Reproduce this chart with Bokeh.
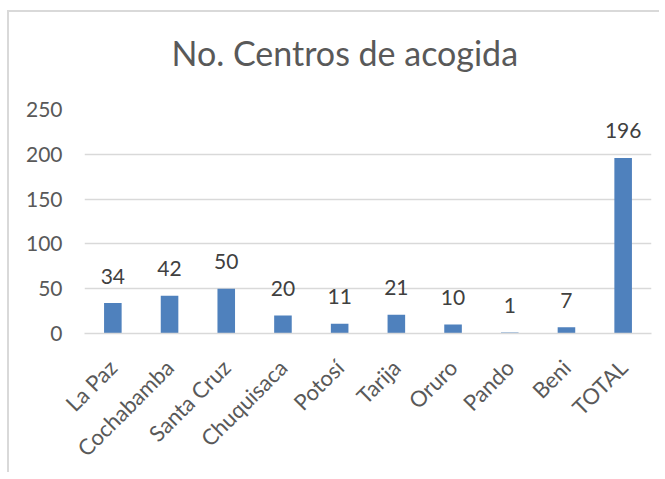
import math
from bokeh.plotting import figure
from bokeh.models import FactorRange, Range1d, FixedTicker, ColumnDataSource, Title
from bokeh.core.properties import value
from bokeh.embed import file_html
from bokeh.resources import INLINE

# ---- data ----
categories = ["La Paz", "Cochabamba", "Santa Cruz", "Chuquisaca", "Potosí",
              "Tarija", "Oruro", "Pando", "Beni", "TOTAL"]
counts = [34, 42, 50, 20, 11, 21, 10, 1, 7, 196]
y_ticks = [0, 50, 100, 150, 200, 250]
title_text = "No. Centros de acogida"

FONT = "Lato"

src = ColumnDataSource(dict(cat=categories, val=counts,
                            lbl=[str(v) for v in counts]))

p = figure(
    width=652, height=462,
    x_range=FactorRange(factors=categories),
    y_range=Range1d(0, 250),
    output_backend="svg", toolbar_location=None,
    min_border_left=75, min_border_right=10,
    min_border_top=97, min_border_bottom=136,
    title=title_text,
)
p.styles = {"margin-left": "7px", "margin-top": "10px",
            "border-left": "2px solid #d9d9d9", "border-top": "2px solid #d9d9d9"}
p.outline_line_color = None
p.background_fill_color = "white"
p.border_fill_color = "white"

# main title
p.title.align = "left"
p.title.offset = 87
p.title.standoff = 0
p.title.text_font = FONT
p.title.text_font_size = "34px"
p.title.text_font_style = "normal"
p.title.text_color = "#595959"

# blank spacer between title and plot area
spacer = Title(text=" ", text_font_size="1px", standoff=34)
p.add_layout(spacer, "above")

# bars
p.vbar(x="cat", top="val", width=0.31, source=src,
       fill_color="#4f81bd", line_color=None)

# data labels
p.text(x="cat", y="val", text="lbl", source=src,
       text_font=value(FONT), text_font_size="21px", text_color="#404040",
       text_align="center", text_baseline="alphabetic", y_offset=-27)

# axes
p.yaxis.ticker = FixedTicker(ticks=y_ticks)
p.yaxis.axis_line_color = None
p.yaxis.major_tick_line_color = None
p.yaxis.minor_tick_line_color = None
p.yaxis.major_label_standoff = 16
p.yaxis.major_label_text_font = FONT
p.yaxis.major_label_text_font_size = "21px"
p.yaxis.major_label_text_color = "#595959"

p.xaxis.axis_line_color = "#d9d9d9"
p.xaxis.axis_line_width = 1.5
p.xaxis.major_tick_line_color = None
p.xaxis.minor_tick_line_color = None
p.xaxis.major_label_orientation = math.pi / 4
p.xaxis.major_label_standoff = 24
p.xaxis.major_label_text_font = FONT
p.xaxis.major_label_text_font_size = "22px"
p.xaxis.major_label_text_color = "#595959"

p.xgrid.grid_line_color = None
p.ygrid.grid_line_color = "#d9d9d9"
p.ygrid.grid_line_width = 1.5

open("out.html", "w").write(file_html(p, INLINE))
